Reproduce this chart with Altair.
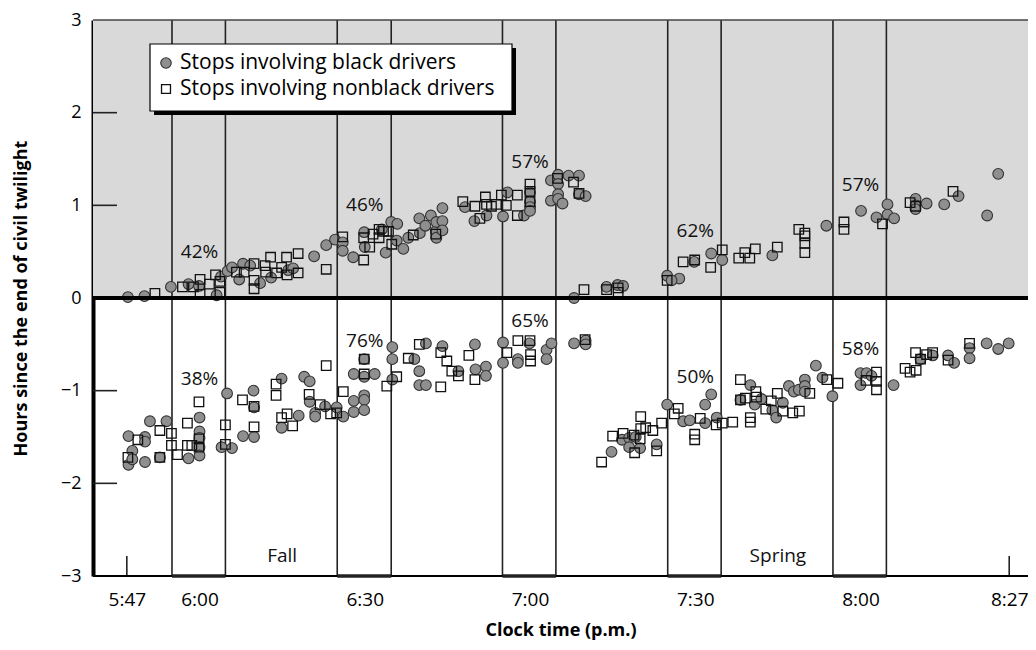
import altair as alt
import pandas as pd

# ---------------- data (minutes after 5:00 p.m., hours since end of civil twilight) -------------
black_time = [52.0, 55.0, 59.8, 63.0, 64.9, 68.1, 68.9, 70.1, 70.9, 72.2, 72.9, 74.2, 76.0, 78.0, 81.1, 82.0,
              85.8, 88.0, 89.6, 91.0, 91.0, 92.9, 94.9, 95.0, 98.8, 98.1, 99.8, 100.9, 100.8, 102.0, 102.9,
              104.9, 105.0, 106.0, 107.0, 107.9, 108.0, 108.0, 109.1, 109.1, 109.1, 113.2, 114.9, 117.1,
              120.1, 120.9, 123.9, 125.0, 125.0, 125.0, 125.0, 128.8, 130.1, 130.1, 130.1, 128.8, 130.1,
              130.9, 132.0, 133.9, 133.9, 135.1, 133.0, 138.9, 140.9, 141.9, 149.9, 152.1, 150.7, 154.8,
              157.9, 159.9, 169.0, 178.8, 185.1, 187.9, 189.9, 189.9, 191.1, 195.0, 195.0, 195.0, 197.0,
              200.2, 202.8, 208.0, 210.0,
              52.1, 52.8, 52.1, 52.8, 55.1, 55.1, 55.1, 56.0, 57.8, 59.0, 63.0, 65.0, 65.0, 65.0, 65.0, 65.0,
              70.0, 69.0, 70.9, 72.9, 74.8, 74.9, 74.9, 79.9, 79.9, 83.0, 84.0, 85.0, 85.0, 86.0, 86.0, 87.8,
              89.9, 91.1, 93.0, 93.0, 93.0, 94.9, 94.9, 94.9, 94.9, 94.9, 96.8, 100.0, 100.0, 100.0, 104.0,
              104.9, 104.9, 106.1, 106.1, 109.1, 112.0, 115.0, 115.1, 117.0, 117.0, 120.1, 120.1, 122.8,
              122.8, 124.9, 128.0, 128.0, 128.9, 133.0, 135.1, 135.1, 139.8, 141.7, 143.0, 143.0, 144.2,
              145.0, 148.0, 149.9, 152.8, 154.0, 156.8, 156.8, 157.9, 158.9, 163.2, 165.0, 165.8, 167.0,
              169.0, 169.7, 170.9, 172.0, 172.9, 173.8, 174.9, 174.9, 174.9, 176.9, 178.1, 179.9, 185.0,
              185.0, 186.1, 187.0, 191.0, 195.9, 198.1, 200.9, 202.0, 204.8, 204.8, 207.9, 210.0, 211.9]
black_hours = [0.01, 0.02, 0.12, 0.15, 0.13, 0.03, 0.23, 0.29, 0.33, 0.20, 0.37, 0.35, 0.16, 0.22, 0.30, 0.32,
               0.45, 0.57, 0.63, 0.60, 0.51, 0.44, 0.71, 0.55, 0.49, 0.74, 0.82, 0.80, 0.62, 0.53, 0.65,
               0.86, 0.70, 0.78, 0.89, 0.72, 0.65, 0.82, 0.97, 0.83, 0.73, 0.98, 0.83, 0.89,
               0.88, 1.14, 0.89, 1.14, 1.04, 0.98, 0.94, 1.27, 1.33, 1.23, 1.12, 1.05, 1.07,
               1.02, 1.32, 1.32, 1.12, 1.10, 0.00, 0.12, 0.14, 0.13, 0.24, 0.21, 0.19, 0.39,
               0.48, 0.41, 0.46, 0.78, 0.94, 0.87, 1.01, 0.90, 0.86, 1.07, 1.00, 0.96, 1.02,
               1.01, 1.10, 0.89, 1.34,
               -1.49, -1.65, -1.80, -1.74, -1.50, -1.55, -1.77, -1.33, -1.72, -1.33, -1.73, -1.29, -1.44, -1.51, -1.61, -1.70,
               -1.03, -1.61, -1.62, -1.49, -1.00, -1.18, -1.50, -0.87, -1.40, -1.27, -0.85, -0.90, -1.12, -1.24, -1.28, -1.17,
               -1.18, -1.28, -0.82, -1.11, -1.23, -0.85, -1.05, -1.10, -1.21, -0.66, -0.82, -0.53, -0.66, -0.88, -0.66,
               -0.79, -0.94, -0.49, -0.94, -0.52, -0.79, -0.50, -0.77, -0.74, -0.84, -0.48, -0.70, -0.66,
               -0.70, -0.49, -0.56, -0.66, -0.49, -0.49, -0.46, -0.50, -1.66, -1.53, -1.51, -1.61, -1.50,
               -1.62, -1.58, -1.15, -1.33, -1.32, -1.35, -1.15, -1.04, -1.29, -1.10, -0.94, -1.15, -1.09,
               -1.21, -1.29, -1.13, -0.95, -1.01, -0.99, -0.88, -0.95, -1.01, -0.73, -0.86, -1.06, -0.81,
               -0.94, -0.81, -0.84, -0.94, -0.66, -0.62, -0.62, -0.70, -0.54, -0.65, -0.49, -0.55, -0.49]

nonblack_time = [56.9, 61.9, 63.9, 65.1, 65.1, 66.8, 67.9, 68.7, 68.7, 71.7, 73.1, 74.9, 74.9, 74.9, 76.9, 77.0,
                 77.9, 79.0, 79.9, 80.8, 80.9, 82.9, 82.9, 88.0, 91.0, 94.8, 94.8, 95.9, 96.5, 97.6, 97.6,
                 98.4, 99.3, 99.9, 103.8, 107.9, 112.8, 115.0, 115.9, 116.9, 117.1, 118.0, 118.9, 119.8,
                 120.7, 122.7, 122.7, 125.0, 125.0, 125.0, 130.0, 132.9, 133.9, 134.8, 138.9, 141.0, 141.0,
                 149.9, 152.8, 154.9, 157.8, 159.9, 162.9, 164.0, 164.9, 165.9, 169.9, 173.8, 174.9, 174.9,
                 174.9, 174.9, 182.0, 182.0, 189.0, 194.0, 195.0, 201.8,
                 52.0, 53.8, 57.8, 57.8, 59.9, 59.9, 61.0, 62.8, 62.8, 63.6, 64.9, 64.9, 64.9, 69.7, 69.7,
                 72.8, 74.9, 74.9, 78.9, 78.9, 79.9, 80.9, 81.9, 84.9, 86.9, 88.0, 88.8, 89.9, 91.1, 94.9,
                 94.9, 99.0, 100.8, 104.9, 102.9, 108.8, 109.9, 108.8, 110.8, 112.0, 113.9, 115.0, 120.8,
                 122.8, 125.0, 125.1, 125.1, 135.0, 138.0, 140.0, 141.9, 143.9, 144.0, 145.1, 145.1, 145.0,
                 146.0, 147.3, 148.0, 148.9, 151.2, 151.9, 154.9, 154.9, 155.9, 158.8, 159.9, 161.8, 165.0,
                 165.0, 163.2, 163.2, 164.1, 166.0, 166.1, 167.8, 168.8, 169.9, 170.9, 172.7, 173.9, 175.8,
                 178.9, 180.9, 186.0, 187.9, 187.9, 187.9, 193.1, 194.0, 195.1, 195.0, 195.9, 197.0, 198.1,
                 200.9, 204.8]
nonblack_hours = [0.05, 0.12, 0.12, 0.20, 0.04, 0.15, 0.25, 0.18, 0.06, 0.28, 0.28, 0.37, 0.19, 0.10, 0.35, 0.28,
                  0.44, 0.27, 0.33, 0.44, 0.25, 0.48, 0.27, 0.31, 0.66, 0.41, 0.65, 0.55, 0.69, 0.74, 0.65,
                  0.72, 0.72, 0.58, 0.68, 0.69, 1.04, 0.99, 0.86, 1.09, 1.01, 0.99, 1.01, 1.11,
                  1.00, 1.11, 0.89, 1.23, 1.15, 1.04, 1.29, 1.25, 1.13, 0.09, 0.09, 0.11, 0.06,
                  0.19, 0.39, 0.41, 0.33, 0.52, 0.43, 0.49, 0.43, 0.53, 0.55, 0.74, 0.70, 0.67,
                  0.59, 0.49, 0.82, 0.74, 0.80, 1.03, 0.99, 1.15,
                  -1.72, -1.53, -1.43, -1.72, -1.46, -1.59, -1.69, -1.35, -1.59, -1.59, -1.12, -1.52, -1.61, -1.37, -1.58,
                  -1.10, -1.17, -1.39, -0.93, -1.05, -1.29, -1.25, -1.38, -1.04, -1.15, -0.73, -1.25, -1.24, -1.01, -0.66,
                  -0.82, -0.95, -0.85, -0.50, -0.65, -0.59, -0.68, -0.96, -0.79, -0.84, -0.62, -0.88, -0.59,
                  -0.46, -0.46, -0.61, -0.68, -0.45, -1.77, -1.49, -1.46, -1.48, -1.67, -1.28, -1.41, -1.52,
                  -1.40, -1.43, -1.65, -1.35, -1.25, -1.19, -1.47, -1.53, -1.30, -1.37, -1.35, -1.34, -1.29,
                  -1.34, -0.88, -1.10, -1.08, -1.01, -1.07, -1.20, -1.11, -1.03, -1.22, -1.24, -1.22, -1.03,
                  -0.88, -0.92, -0.89, -0.80, -0.90, -0.99, -0.76, -0.80, -0.78, -0.59, -0.66, -0.61, -0.59,
                  -0.67, -0.49]

band_start = [60, 90, 120, 150, 180]
band_end = [69.7, 99.8, 129.7, 159.7, 189.7]
band_mid = [65, 95, 125, 155, 185]
pct_upper = ["42%", "46%", "57%", "62%", "57%"]
pct_upper_y = [0.50, 1.00, 1.47, 0.72, 1.22]
pct_lower = ["38%", "76%", "65%", "50%", "58%"]
pct_lower_y = [-0.87, -0.46, -0.25, -0.85, -0.55]
season_labels = ["Fall", "Spring"]
season_time = [80, 170]
season_y = [-2.78, -2.78]
x_tick_values = [51.8, 65, 95, 125, 155, 185, 212]
x_tick_labels = ["5:47", "6:00", "6:30", "7:00", "7:30", "8:00", "8:27"]
edge_ticks = [51.8, 212.0]
y_tick_values = [-3, -2, -1, 0, 1, 2, 3]
y_inner_ticks = [2, 1, -1, -2]
legend_labels = ["Stops involving black drivers", "Stops involving nonblack drivers"]

W, H = 935, 556
FONT = "Open Sans"
xs = alt.Scale(domain=[45.66, 215.41], nice=False, zero=False)
ys = alt.Scale(domain=[-3, 3], nice=False, zero=False)

label_expr = " : ".join(
    f"datum.value < {v + 1} ? '{l}'" for v, l in zip(x_tick_values[:-1], x_tick_labels[:-1])
) + f" : '{x_tick_labels[-1]}'"

XAXIS = alt.Axis(
    values=x_tick_values, labelExpr=label_expr, domain=False, ticks=False, grid=False,
    labelFont=FONT, labelFontSize=19, labelColor="black", labelPadding=14,
    title="Clock time (p.m.)", titleFont=FONT, titleFontSize=18, titleFontWeight="bold",
    titleColor="black", titlePadding=12)
YAXIS = alt.Axis(
    values=y_tick_values, format="d", domain=True, domainColor="black", domainWidth=4,
    ticks=False, grid=False, labelFont=FONT, labelFontSize=18, labelColor="black", labelPadding=12,
    title="Hours since the end of civil twilight", titleFont=FONT, titleFontSize=18,
    titleFontWeight="bold", titleColor="black", titlePadding=30)


def X(f):
    return alt.X(f, scale=xs, axis=XAXIS)


def Y(f):
    return alt.Y(f, scale=ys, axis=YAXIS)


black = pd.DataFrame({"t": black_time, "h": black_hours})
nonblack = pd.DataFrame({"t": nonblack_time, "h": nonblack_hours})
verts = pd.DataFrame({"t": band_start + band_end})
bands = pd.DataFrame({"t": band_start, "t2": band_end, "y": [-3] * len(band_start)})
pct = pd.DataFrame({"t": band_mid + band_mid, "y": pct_upper_y + pct_lower_y, "lab": pct_upper + pct_lower})
seasons = pd.DataFrame({"t": season_time, "y": season_y, "lab": season_labels})
edges = pd.DataFrame({"t": edge_ticks})
yt = pd.DataFrame({"y": y_inner_ticks})
one = pd.DataFrame({"a": [0]})

gray = alt.Chart(pd.DataFrame({"y": [0], "y2": [3]})).mark_rect(color="#d9d9d9").encode(
    y=Y("y:Q"), y2="y2:Q", x=alt.value(0), x2=alt.value(W))

vlines = alt.Chart(verts).mark_rule(color="#222", strokeWidth=1.6).encode(
    x=X("t:Q"), y=alt.value(0), y2=alt.value(H))

edge_rules = alt.Chart(edges).mark_rule(color="#222", strokeWidth=1.6).encode(
    x=X("t:Q"), y=alt.value(H - 20), y2=alt.value(H))

ytick_rules = alt.Chart(yt).mark_rule(color="#222", strokeWidth=1.6).encode(
    y=Y("y:Q"), x=alt.value(0), x2=alt.value(24))

zero_line = alt.Chart(pd.DataFrame({"y": [0]})).mark_rule(color="black", strokeWidth=4).encode(
    y=Y("y:Q"), x=alt.value(0), x2=alt.value(W))
top_line = alt.Chart(pd.DataFrame({"y": [3]})).mark_rule(color="#444", strokeWidth=1.5).encode(
    y=Y("y:Q"), x=alt.value(0), x2=alt.value(W))
bottom_line = alt.Chart(pd.DataFrame({"y": [-3]})).mark_rule(color="black", strokeWidth=2).encode(
    y=Y("y:Q"), x=alt.value(0), x2=alt.value(W))
bottom_thick = alt.Chart(bands).mark_rule(color="#222", strokeWidth=3.5).encode(
    x=X("t:Q"), x2="t2:Q", y=Y("y:Q"))

circles = alt.Chart(black).mark_point(shape="circle", filled=True, size=115, color="#8f8f8f",
                                      stroke="#333", strokeWidth=1.1, opacity=1).encode(
    x=X("t:Q"), y=Y("h:Q"))
squares = alt.Chart(nonblack).mark_point(shape="square", filled=False, size=90, color="#111",
                                         strokeWidth=1.3, opacity=1).encode(
    x=X("t:Q"), y=Y("h:Q"))

pct_text = alt.Chart(pct).mark_text(font=FONT, fontSize=19, color="#111", baseline="middle").encode(
    x=X("t:Q"), y=Y("y:Q"), text="lab:N")
season_text = alt.Chart(seasons).mark_text(font=FONT, fontSize=19, color="#111", baseline="middle").encode(
    x=X("t:Q"), y=Y("y:Q"), text="lab:N")

shadow = alt.Chart(one).mark_rect(color="black").encode(
    x=alt.value(61), x2=alt.value(423), y=alt.value(28), y2=alt.value(95))
box = alt.Chart(one).mark_rect(fill="white", stroke="black", strokeWidth=1.2).encode(
    x=alt.value(57), x2=alt.value(419), y=alt.value(24), y2=alt.value(91))
leg_c = alt.Chart(one).mark_point(shape="circle", filled=True, size=110, color="#8f8f8f",
                                  stroke="#333", strokeWidth=1.1, opacity=1).encode(
    x=alt.value(73), y=alt.value(43))
leg_s = alt.Chart(one).mark_point(shape="square", filled=False, size=80, color="#111",
                                  strokeWidth=1.3, opacity=1).encode(
    x=alt.value(73), y=alt.value(69))
leg_t1 = alt.Chart(one).mark_text(font=FONT, fontSize=21, color="black", align="left",
                                  baseline="middle").encode(
    x=alt.value(87), y=alt.value(43), text=alt.value(legend_labels[0]))
leg_t2 = alt.Chart(one).mark_text(font=FONT, fontSize=21, color="black", align="left",
                                  baseline="middle").encode(
    x=alt.value(87), y=alt.value(69), text=alt.value(legend_labels[1]))

chart = alt.layer(
    gray, vlines, edge_rules, ytick_rules, top_line, bottom_line, bottom_thick,
    circles, squares, zero_line, pct_text, season_text,
    shadow, box, leg_c, leg_s, leg_t1, leg_t2,
).properties(
    width=W, height=H,
    autosize=alt.AutoSizeParams(type="none"),
    padding={"left": 85, "top": 12, "right": 0, "bottom": 66},
).configure_view(stroke=None).configure(background="white")

chart.save("out.html", embed_options={"renderer": "svg", "actions": False})
